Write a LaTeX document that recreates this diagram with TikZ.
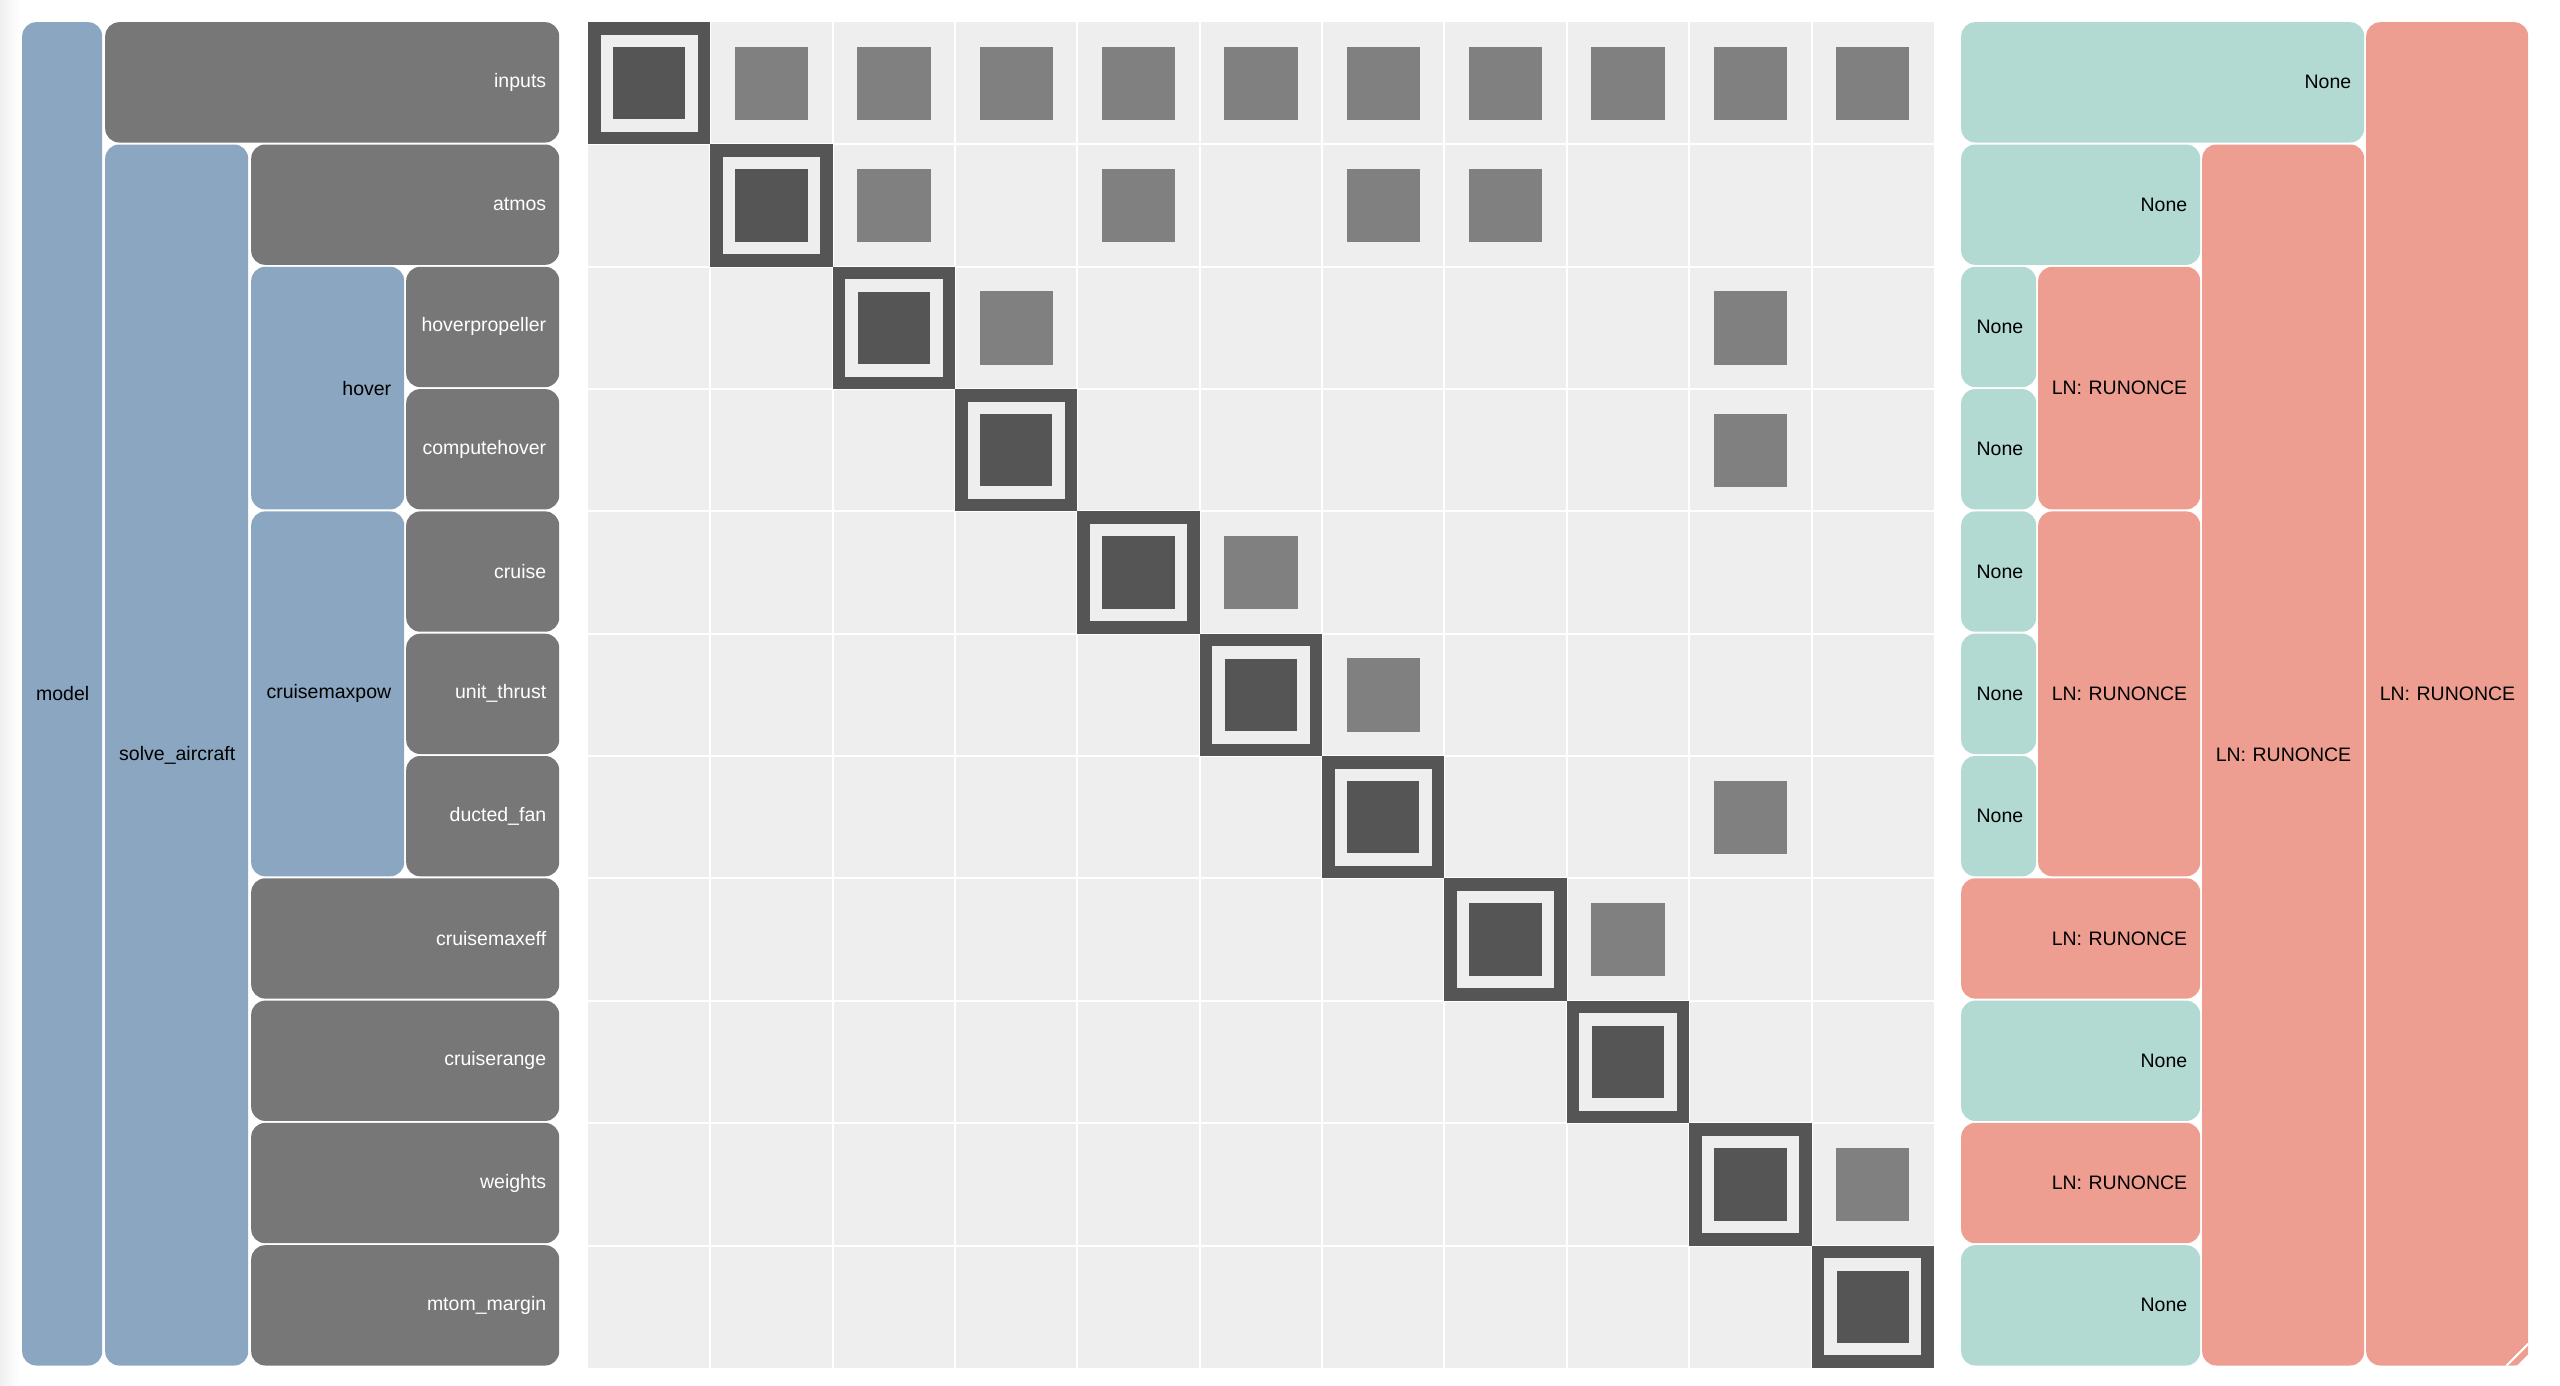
\documentclass[tikz,border=0pt]{standalone}
\usepackage{fontspec}
\setmainfont{Liberation Sans}
\definecolor{sysblue}{HTML}{8AA6C1}
\definecolor{compgray}{HTML}{777777}
\definecolor{nonecyan}{HTML}{B2DAD3}
\definecolor{lnred}{HTML}{ED9E90}
\definecolor{cellbg}{HTML}{EEEEEE}
\definecolor{diagdark}{HTML}{555555}
\definecolor{offdark}{HTML}{808080}
\tikzset{
  box/.style={rectangle, rounded corners=14pt, anchor=north west, inner xsep=13pt, inner ysep=0pt,
    align=right, font=\fontsize{19.5pt}{23pt}\selectfont},
  sysbox/.style={box, fill=sysblue},
  compbox/.style={box, fill=compgray, text=white},
  nonebox/.style={box, fill=nonecyan},
  lnbox/.style={box, fill=lnred},
}
\begin{document}
\begin{tikzpicture}[x=1pt, y=-1pt]
        \useasboundingbox (0,0) rectangle (2560,1385);
        \shade[left color=black!6, right color=white] (0,0) rectangle (20,1385);

        \node[sysbox, text width=54pt, minimum height=1343.3pt] (model) at (22, 22) {model};
        \node[compbox, text width=428pt, minimum height=120.3pt] (inputs) at (105, 22) {inputs};
        \node[sysbox, text width=117pt, minimum height=1221pt] (solve) at (105, 144.3) {solve\_aircraft};
        \node[compbox, text width=282pt, minimum height=120.3pt] (atmos) at (251, 144.3) {atmos};
        \node[sysbox, text width=127pt, minimum height=242.6pt] (hover) at (251, 266.6) {hover};
        \node[compbox, text width=127pt, minimum height=120.3pt] (hoverprop) at (406, 266.6) {hoverpropeller};
        \node[compbox, text width=127pt, minimum height=120.3pt] (computehover) at (406, 388.9) {computehover};
        \node[sysbox, text width=127pt, minimum height=364.9pt] (cruisemaxpow) at (251, 511.2) {cruisemaxpow};
        \node[compbox, text width=127pt, minimum height=120.3pt] (cruise) at (406, 511.2) {cruise};
        \node[compbox, text width=127pt, minimum height=120.3pt] (unitthrust) at (406, 633.5) {unit\_thrust};
        \node[compbox, text width=127pt, minimum height=120.3pt] (ductedfan) at (406, 755.8) {ducted\_fan};
        \node[compbox, text width=282pt, minimum height=120.3pt] (cruisemaxeff) at (251, 878.1) {cruisemaxeff};
        \node[compbox, text width=282pt, minimum height=120.3pt] (cruiserange) at (251, 1000.4) {cruiserange};
        \node[compbox, text width=282pt, minimum height=120.3pt] (weights) at (251, 1122.7) {weights};
        \node[compbox, text width=282pt, minimum height=120.3pt] (mtommargin) at (251, 1245.0) {mtom\_margin};

        \fill[cellbg] (588, 22) rectangle (1933.85, 1367.85);
        \foreach \i in {1,...,10} {
          \draw[white, line width=2pt] ({588+122.35*\i}, 22) -- ({588+122.35*\i}, 1367.85);
          \draw[white, line width=2pt] (588, {22+122.35*\i}) -- (1933.85, {22+122.35*\i});
        }
        \foreach \i in {0,...,10} {
          \fill[diagdark] ({588+122.35*\i}, {22+122.35*\i}) rectangle +(122.35, 122.35);
          \fill[cellbg] ({600.5+122.35*\i}, {34.5+122.35*\i}) rectangle +(97.35, 97.35);
          \fill[diagdark] ({613+122.35*\i}, {47+122.35*\i}) rectangle +(72.35, 72.35);
        }
        \foreach \r/\c in {0/1,0/2,0/3,0/4,0/5,0/6,0/7,0/8,0/9,0/10,1/2,1/4,1/6,1/7,2/3,2/9,3/9,4/5,5/6,6/9,7/8,9/10}
          \fill[offdark] ({612.5+122.35*\c}, {46.5+122.35*\r}) rectangle +(73.35, 73.35);

        \node[nonebox, text width=377pt, minimum height=120.3pt] (inputsslv) at (1961, 22) {None};
        \node[lnbox, text width=136pt, minimum height=1343.3pt] (modelslv) at (2366, 22) {LN: RUNONCE};
        \node[nonebox, text width=213pt, minimum height=120.3pt] (atmosslv) at (1961, 144.3) {None};
        \node[lnbox, text width=136pt, minimum height=1221pt] (solveslv) at (2202, 144.3) {LN: RUNONCE};
        \node[nonebox, text width=49pt, minimum height=120.3pt] (hoverpropslv) at (1961, 266.6) {None};
        \node[nonebox, text width=49pt, minimum height=120.3pt] (computehoverslv) at (1961, 388.9) {None};
        \node[lnbox, text width=136pt, minimum height=242.6pt] (hoverslv) at (2038, 266.6) {LN: RUNONCE};
        \node[nonebox, text width=49pt, minimum height=120.3pt] (cruiseslv) at (1961, 511.2) {None};
        \node[nonebox, text width=49pt, minimum height=120.3pt] (unitthrustslv) at (1961, 633.5) {None};
        \node[nonebox, text width=49pt, minimum height=120.3pt] (ductedfanslv) at (1961, 755.8) {None};
        \node[lnbox, text width=136pt, minimum height=364.9pt] (cruisemaxpowslv) at (2038, 511.2) {LN: RUNONCE};
        \node[lnbox, text width=213pt, minimum height=120.3pt] (cruisemaxeffslv) at (1961, 878.1) {LN: RUNONCE};
        \node[nonebox, text width=213pt, minimum height=120.3pt] (cruiserangeslv) at (1961, 1000.4) {None};
        \node[lnbox, text width=213pt, minimum height=120.3pt] (weightsslv) at (1961, 1122.7) {LN: RUNONCE};
        \node[nonebox, text width=213pt, minimum height=120.3pt] (mtommarginslv) at (1961, 1245.0) {None};

        \draw[white, line width=2pt] ([yshift=22pt]modelslv.south east) -- ([xshift=-22pt]modelslv.south east);
        \draw[white, line width=2pt] ([yshift=10pt]modelslv.south east) -- ([xshift=-10pt]modelslv.south east);

    \end{tikzpicture}
\end{document}
